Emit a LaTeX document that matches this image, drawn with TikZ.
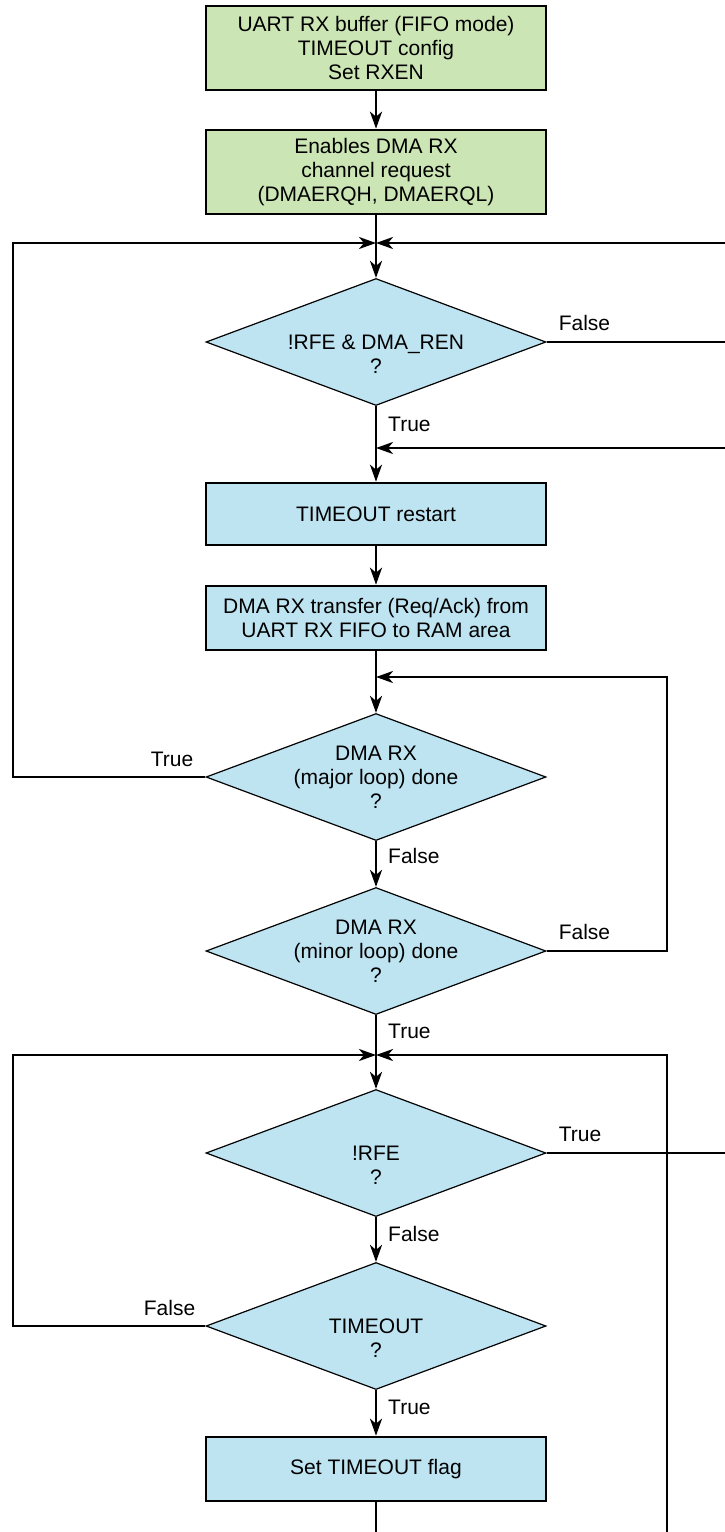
\documentclass[tikz,border=0pt]{standalone}
\usepackage{fontspec}
\setmainfont{Liberation Sans}
\usetikzlibrary{shapes.geometric,arrows.meta}
\definecolor{cfggreen}{RGB}{204,229,180}
\definecolor{stepblue}{RGB}{190,228,242}
\tikzset{
  txt/.style={font=\fontsize{21}{24}\selectfont},
  setup/.style={txt,draw,line width=2.6pt,fill=cfggreen,minimum width=340pt,align=center,inner sep=0pt},
  proc/.style={txt,draw,line width=2.6pt,fill=stepblue,minimum width=340pt,align=center,inner sep=0pt},
  decision/.style={diamond,draw,line width=1.2pt,fill=stepblue,minimum width=340pt,minimum height=127pt,inner sep=0pt},
  lbl/.style={txt,inner sep=0pt},
  wire/.style={line width=2.6pt},
  flow/.style={line width=2.6pt,-{Stealth[length=17pt,width=12pt,inset=5pt]}}
}
\begin{document}
\begin{tikzpicture}[x=1pt,y=-1pt]
  \useasboundingbox (0,0) rectangle (725,1532);
  % edges of the picture
  \coordinate (lx) at (13,0);
  \coordinate (rx) at (667,0);
  \coordinate (ex) at (725,0);
  \coordinate (bot) at (376,1532);

  % init
  \node[setup,minimum height=84pt] (b1) at (376,48) {UART RX buffer (FIFO mode)\\TIMEOUT config\\Set RXEN};
  \node[setup,minimum height=84pt] (b2) at (376,172) {Enables DMA RX\\channel request\\(DMAERQH, DMAERQL)};

  % DMA transfer loop
  \coordinate (j1) at (376,243);
  \node[decision,label={[lbl,align=center]center:{\vphantom{A}\\!RFE \& DMA\_REN\\?}}] (d1) at (376,342) {};
  \coordinate (e1) at (376,448);
  \node[proc,minimum height=62pt] (b3) at (376,514) {TIMEOUT restart};
  \node[proc,minimum height=64pt] (b4) at (376,618) {DMA RX transfer (Req/Ack) from\\UART RX FIFO to RAM area};
  \coordinate (j2) at (376,677);
  \node[decision,label={[lbl,align=center]center:{DMA RX\\(major loop) done\\?}}] (d2) at (376,777) {};
  \node[decision,label={[lbl,align=center]center:{DMA RX\\(minor loop) done\\?}}] (d3) at (376,951) {};

  % idle / timeout loop
  \coordinate (j3) at (376,1055);
  \node[decision,label={[lbl,align=center]center:{\vphantom{A}\\!RFE\\?}}] (d4) at (376,1153) {};
  \node[decision,label={[lbl,align=center]center:{\vphantom{A}\\TIMEOUT\\?}}] (d5) at (376,1326) {};
  \node[proc,minimum height=64pt] (b5) at (376,1469) {Set TIMEOUT flag};

  % connectors
  \draw[flow] (b1) -- (b2);
  \draw[wire] (b2) -- (j1);
  \draw[flow] (j1) -- (d1);
  \draw[flow] (ex |- j1) -- (j1);
  \draw[wire] (d1.east) -- (ex |- d1.east);
  \draw[flow] (d1) -- (b3);
  \draw[flow] (ex |- e1) -- (e1);
  \draw[flow] (b3) -- (b4);
  \draw[wire] (b4) -- (j2);
  \draw[flow] (j2) -- (d2);
  \draw[flow] (d2.west) -- (d2.west -| lx) |- (j1);
  \draw[flow] (d2) -- (d3);
  \draw[flow] (d3.east) -- (d3.east -| rx) |- (j2);
  \draw[wire] (d3) -- (j3);
  \draw[flow] (j3) -- (d4);
  \draw[wire] (d4.east) -- (ex |- d4.east);
  \draw[flow] (d4) -- (d5);
  \draw[flow] (d5.west) -- (d5.west -| lx) |- (j3);
  \draw[flow] (rx |- bot) |- (j3);
  \draw[flow] (d5) -- (b5);
  \draw[wire] (b5) -- (bot);

  % branch labels
  \node[lbl,anchor=west] (f1) at ([xshift=12pt,yshift=19pt]d1.east) {False};
  \node[lbl,anchor=west] (t1) at ([xshift=12pt,yshift=-18pt]d1.south) {True};
  \node[lbl,anchor=east] (t2) at ([xshift=-12pt,yshift=18pt]d2.west) {True};
  \node[lbl,anchor=west] (f2) at ([xshift=12pt,yshift=-15pt]d2.south) {False};
  \node[lbl,anchor=west] (f3) at ([xshift=12pt,yshift=19pt]d3.east) {False};
  \node[lbl,anchor=west] (t3) at ([xshift=12pt,yshift=-16pt]d3.south) {True};
  \node[lbl,anchor=west] (t4) at ([xshift=12pt,yshift=19pt]d4.east) {True};
  \node[lbl,anchor=west] (f4) at ([xshift=12pt,yshift=-17pt]d4.south) {False};
  \node[lbl,anchor=east] (f5) at ([xshift=-10pt,yshift=18pt]d5.west) {False};
  \node[lbl,anchor=west] (t5) at ([xshift=12pt,yshift=-17pt]d5.south) {True};
\end{tikzpicture}
\end{document}
